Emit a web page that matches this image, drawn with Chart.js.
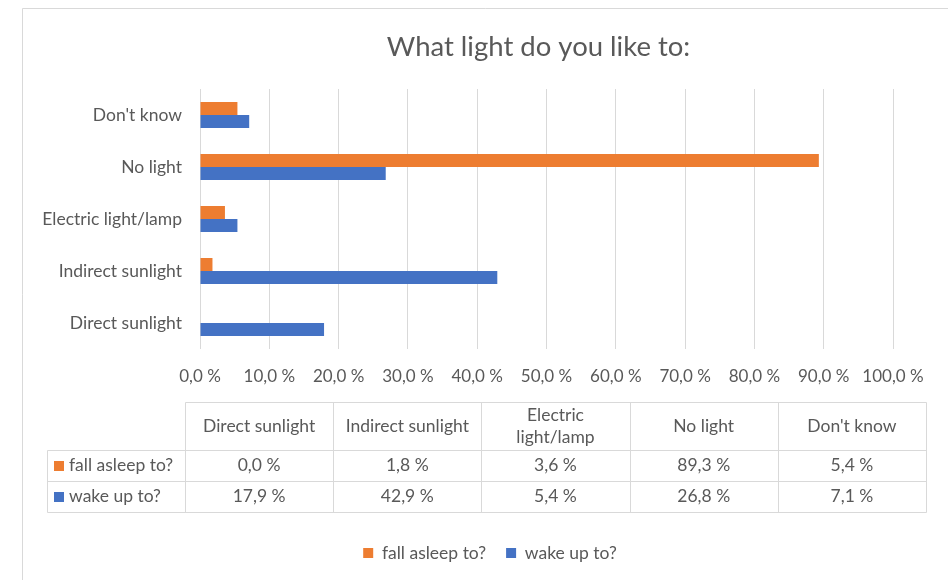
<!DOCTYPE html>
<html>
<head>
<meta charset="utf-8">
<script src="https://cdn.jsdelivr.net/npm/chart.js@4.4.1/dist/chart.umd.min.js"></script>
<style>
    html, body {margin: 0; padding: 0; background: #fff}
    #wrap {position: relative; width: 948px; height: 580px}
</style>
</head>
<body>
<div id="wrap"><canvas id="chart" width="948" height="580"></canvas></div>
<script>
const categories = ["Direct sunlight", "Indirect sunlight", "Electric light/lamp", "No light", "Don't know"]
const fallAsleep = [0.0, 1.8, 3.6, 89.3, 5.4]
const wakeUp = [17.9, 42.9, 5.4, 26.8, 7.1]
const seriesNames = ["fall asleep to?", "wake up to?"]
const seriesValues = [fallAsleep, wakeUp]
const seriesColors = ["#ED7D31", "#4472C4"]
const chartTitle = "What light do you like to:"

const textColor = "#595959"
const lineColor = "#d9d9d9"
const textSize = 17.5

Chart.defaults.font.family = "Lato, 'Liberation Sans', sans-serif"

const fmt = v => Number(v).toFixed(1).replace(".", ",") + " %"

function wrapText(ctx, text, maxW) {
    const lines = []
    let line = ""
    for (const w of text.split(" ")) {
        const t = line ? line + " " + w : w
        if (line && ctx.measureText(t).width > maxW) {
            lines.push(line)
            line = w
        } else {
            line = t
        }
    }
    lines.push(line)
    return lines
}

// outer frame of the chart object (left + top edge visible)
const frame = {
    id: "frame",
    beforeDraw(chart){
        const ctx = chart.ctx
        ctx.save()
        ctx.fillStyle = "#fff"
        ctx.fillRect(0, 0, chart.width, chart.height)
        ctx.strokeStyle = lineColor
        ctx.lineWidth = 1
        ctx.beginPath()
        ctx.moveTo(22.5, chart.height)
        ctx.lineTo(22.5, 8.5)
        ctx.lineTo(chart.width, 8.5)
        ctx.stroke()
        ctx.restore()
    }
}

// title and legend sit a bit left/right of where chart.js would centre them
const boxOffsets = {
    id: "boxOffsets",
    afterLayout(chart){
        if (chart.titleBlock) chart.titleBlock.left -= 16
        if (chart.legend) chart.legend.left = 87
    }
}

// data table under the x axis
const dataTable = {
    id: "dataTable",
    afterDraw(chart){
        const ctx = chart.ctx
        const top = Math.round(chart.chartArea.bottom) + 53
        const left = 47, labelW = 138, colW = 148.2
        const headH = 48, rowH = 31
        const x0 = left + labelW
        const right = x0 + colW * categories.length
        const bottom = top + headH + rowH * seriesNames.length
        const px = v => Math.round(v) + 0.5

        ctx.save()
        ctx.strokeStyle = lineColor
        ctx.lineWidth = 1
        ctx.beginPath()
        ctx.moveTo(px(x0), px(top)); ctx.lineTo(px(right), px(top))
        for (let r = 0; r <= seriesNames.length; r++) {
            const y = px(top + headH + rowH * r)
            ctx.moveTo(px(left), y); ctx.lineTo(px(right), y)
        }
        ctx.moveTo(px(left), px(top + headH)); ctx.lineTo(px(left), px(bottom))
        for (let c = 0; c <= categories.length; c++) {
            const x = px(x0 + colW * c)
            ctx.moveTo(x, px(top)); ctx.lineTo(x, px(bottom))
        }
        ctx.stroke()

        ctx.font = textSize + "px " + Chart.defaults.font.family
        ctx.fillStyle = textColor
        ctx.textAlign = "center"
        ctx.textBaseline = "middle"

        categories.forEach((cat, c) => {
            const cx = x0 + colW * c + colW / 2
            const lines = wrapText(ctx, cat, colW - 10)
            const lh = 22
            const y0 = top + headH / 2 - (lines.length - 1) * lh / 2
            lines.forEach((l, i) => ctx.fillText(l, cx, y0 + i * lh))
        })

        seriesNames.forEach((name, r) => {
            const cy = top + headH + rowH * r + rowH / 2
            ctx.fillStyle = seriesColors[r]
            ctx.fillRect(left + 7, Math.round(cy) - 5, 10, 10)
            ctx.fillStyle = textColor
            ctx.textAlign = "left"
            ctx.fillText(name, left + 22, cy)
            ctx.textAlign = "center"
            seriesValues[r].forEach((v, c) => {
                ctx.fillText(fmt(v), x0 + colW * c + colW / 2, cy)
            })
        })
        ctx.restore()
    }
}

new Chart(document.getElementById("chart"), {
    type: "bar",
    data: {
        labels: [...categories].reverse(),
        datasets: seriesNames.map((name, i) => ({
            label: name,
            data: [...seriesValues[i]].reverse(),
            backgroundColor: seriesColors[i],
            borderWidth: 0,
            categoryPercentage: 0.5,
            barPercentage: 1
        }))
    },
    options: {
        indexAxis: "y",
        responsive: false,
        animation: false,
        layout: {padding: {left: 22, top: 8, right: 55, bottom: 8.25}},
        scales: {
            x: {
                min: 0,
                max: 100,
                ticks: {stepSize: 10, callback: v => fmt(v), color: textColor, font: {size: 17}, padding: 17, maxRotation: 0},
                grid: {color: lineColor, drawTicks: false},
                border: {display: false},
                afterFit(scale){ scale.height = 175.25 }
            },
            y: {
                grid: {display: false, drawTicks: false},
                border: {display: false},
                ticks: {color: textColor, font: {size: textSize}, padding: 18},
                afterFit(scale){ scale.width = 178 }
            }
        },
        plugins: {
            title: {
                display: true,
                text: chartTitle,
                fullSize: false,
                color: textColor,
                font: {size: 27.5, weight: "normal"},
                padding: {top: 22.5, bottom: 25.5}
            },
            legend: {
                position: "bottom",
                labels: {boxWidth: 10, boxHeight: 10, padding: 20, color: textColor, font: {size: textSize}}
            },
            tooltip: {enabled: false}
        }
    },
    plugins: [frame, boxOffsets, dataTable]
})
</script>
</body>
</html>
